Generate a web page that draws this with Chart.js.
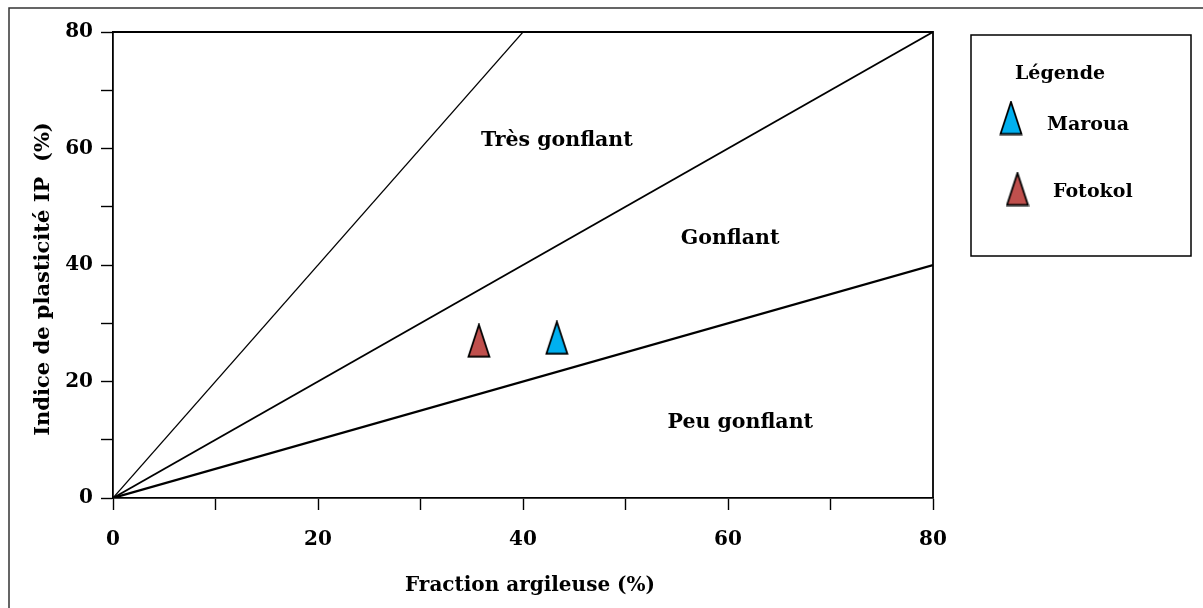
<!DOCTYPE html>
<html>
<head>
<meta charset="utf-8">
<script src="https://cdn.jsdelivr.net/npm/chart.js@4.4.1/dist/chart.umd.min.js"></script>
<style>
  html, body { margin: 0; padding: 0; background: #fff; }
  #wrap { width: 1203px; height: 608px; position: relative; }
</style>
</head>
<body>
<div id="wrap"><canvas id="chart"></canvas></div>
<script>
// sample points (fraction argileuse %, IP %)
const sampleNames = ["Maroua", "Fotokol"];
const sampleClay = [43.3, 35.7];
const samplePI = [27.5, 27.0];
const sampleColors = ["#00B0F0", "#C0504D"];

// boundary lines between zones: IP = slope * clay
const boundarySlopes = [2, 1, 0.5];
const boundaryEndClay = [40, 80, 80];
const boundaryWidths = [1.2, 1.8, 2.2];

// zone labels and where they sit (data coords)
const zoneNames = ["Très gonflant", "Gonflant", "Peu gonflant"];
const zoneClay = [43.3, 60.2, 61.2];
const zonePI = [61.3, 44.5, 13.0];

const axisMin = 0;
const axisMax = 80;
const tickStep = 10;

const FONT = "'DejaVu Serif', serif";

const makeTriangle = (color) => {
    const c = document.createElement("canvas");
    c.width = 24;
    c.height = 35;
    const g = c.getContext("2d");
    g.beginPath();
    g.moveTo(12, 1.5);
    g.lineTo(22.5, 33.5);
    g.lineTo(1.5, 33.5);
    g.closePath();
    g.fillStyle = color;
    g.fill();
    g.lineWidth = 1.8;
    g.strokeStyle = "#000";
    g.stroke();
    return c;
};

const triangles = sampleColors.map(makeTriangle);

const datasets = [];
boundarySlopes.forEach((s, i) => {
    datasets.push({
        data: [{ x: 0, y: 0 }, { x: boundaryEndClay[i], y: s * boundaryEndClay[i] }],
        showLine: true,
        borderColor: "#000",
        borderWidth: boundaryWidths[i],
        pointRadius: 0,
        fill: false
    });
});
sampleNames.forEach((name, i) => {
    datasets.push({
        label: name,
        data: [{ x: sampleClay[i], y: samplePI[i] }],
        pointStyle: triangles[i],
        pointRadius: 12,
        showLine: false
    });
});

const decorations = {
    id: "decorations",
    afterDraw(chart) {
        const ctx = chart.ctx;
        const a = chart.chartArea;
        const xs = chart.scales.x;
        const ys = chart.scales.y;
        ctx.save();

        // box around the plot
        ctx.strokeStyle = "#000";
        ctx.lineWidth = 1.8;
        ctx.beginPath();
        ctx.moveTo(a.left, a.top);
        ctx.lineTo(a.right, a.top);
        ctx.lineTo(a.right, a.bottom);
        ctx.stroke();

        // outer frame (only top and left visible)
        ctx.strokeStyle = "#333";
        ctx.lineWidth = 1.5;
        ctx.beginPath();
        ctx.moveTo(1203, 8);
        ctx.lineTo(9, 8);
        ctx.lineTo(9, 608);
        ctx.stroke();

        // zone labels
        ctx.fillStyle = "#000";
        ctx.font = "bold 20.5px " + FONT;
        ctx.textAlign = "center";
        ctx.textBaseline = "middle";
        zoneNames.forEach((t, i) => {
            ctx.fillText(t, xs.getPixelForValue(zoneClay[i]), ys.getPixelForValue(zonePI[i]));
        });

        // axis titles
        ctx.font = "bold 20px " + FONT;
        ctx.fillText("Fraction argileuse (%)", 530, 586);
        ctx.save();
        ctx.translate(44, 279);
        ctx.rotate(-Math.PI / 2);
        ctx.font = "bold 21px " + FONT;
        ctx.fillText("Indice de plasticité IP  (%)", 0, 0);
        ctx.restore();

        // legend box
        ctx.strokeStyle = "#000";
        ctx.lineWidth = 1.5;
        ctx.strokeRect(971, 35, 220, 221);
        ctx.textAlign = "left";
        ctx.font = "bold 19px " + FONT;
        ctx.fillText("Légende", 1015, 74);
        ctx.fillText("Maroua", 1047, 125);
        ctx.fillText("Fotokol", 1053, 192);
        ctx.drawImage(triangles[0], 1011 - 12, 118 - 17.5);
        ctx.drawImage(triangles[1], 1017.5 - 12, 189 - 17.5);

        ctx.restore();
    }
};

const axisOpts = (widthOrHeight, isX) => ({
    type: "linear",
    min: axisMin,
    max: axisMax,
    ticks: {
        stepSize: tickStep,
        autoSkip: false,
        maxRotation: 0,
        color: "#000",
        font: { family: FONT, size: 20, weight: "bold" },
        padding: isX ? 18 : 8,
        callback: (v) => (v % 20 === 0 ? v : "")
    },
    grid: {
        drawOnChartArea: false,
        drawTicks: true,
        tickLength: 12,
        tickColor: "#000",
        tickWidth: 1.4
    },
    border: { display: true, color: "#000", width: 1.8 },
    afterFit: (scale) => {
        if (isX) scale.height = widthOrHeight;
        else scale.width = widthOrHeight;
    }
});

new Chart(document.getElementById("chart"), {
    type: "scatter",
    data: { datasets: datasets },
    options: {
        responsive: true,
        maintainAspectRatio: false,
        animation: false,
        layout: { padding: { top: 32, right: 270, left: 0, bottom: 0 } },
        plugins: {
            legend: { display: false },
            tooltip: { enabled: false }
        },
        scales: {
            x: axisOpts(110, true),
            y: axisOpts(113, false)
        }
    },
    plugins: [decorations]
});
</script>
</body>
</html>
